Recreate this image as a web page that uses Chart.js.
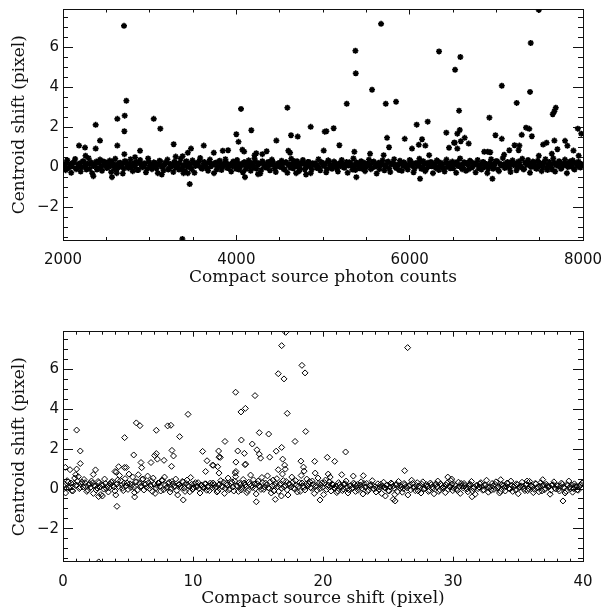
<!DOCTYPE html>
<html>
<head>
<meta charset="utf-8">
<script src="https://cdn.jsdelivr.net/npm/chart.js@4.4.1/dist/chart.umd.min.js"></script>
<style>
  body { margin: 0; background: #fff; }
  #wrap { position: relative; width: 603px; height: 609px; }
  #topChart { position: absolute; left: 0; top: 0; }
  #bottomChart { position: absolute; left: 0; top: 300px; }
</style>
</head>
<body>
<div id="wrap">
  <canvas id="topChart" width="603" height="300"></canvas>
  <canvas id="bottomChart" width="603" height="309"></canvas>
</div>
<script>
// ---- top panel: centroid shift vs photon counts ----
var countsBand = [
  2008, 2031, 2049, 2077, 2095, 2118, 2140, 2163, 2187, 2204, 2229, 2251,
  2270, 2296, 2318, 2337, 2362, 2384, 2401, 2427, 2450, 2468, 2493, 2515,
  2539, 2556, 2581, 2603, 2622, 2648, 2671, 2690, 2712, 2738, 2755, 2779,
  2804, 2823, 2846, 2869, 2890, 2914, 2935, 2957, 2982, 3003, 3026, 3048,
  3069, 3094, 3113, 3137, 3160, 3181, 3205, 3226, 3248, 3273, 3291, 3316,
  3338, 3357, 3383, 3406, 3425, 3450, 3472, 3494, 3517, 3538, 3562, 3583,
  3607, 3629, 3650, 3674, 3695, 3717, 3742, 3761, 3786, 3808, 3829, 3853,
  3874, 3896, 3920, 3941, 3963, 3988, 4009, 4030, 4055, 4076, 4098, 4121,
  4142, 4166, 4187, 4209, 4233, 4254, 4276, 4300, 4321, 4343, 4367, 4388,
  4410, 4434, 4455, 4478, 4501, 4522, 4546, 4567, 4589, 4613, 4634, 4656,
  4680, 4701, 4724, 4747, 4768, 4791, 4813, 4836, 4858, 4881, 4902, 4926,
  4948, 4969, 4993, 5015, 5037, 5060, 5082, 5104, 5127, 5149, 5172, 5194,
  5216, 5239, 5261, 5284, 5306, 5328, 5351, 5373, 5396, 5418, 5440, 5463,
  5485, 5507, 5530, 5552, 5575, 5597, 5619, 5642, 5664, 5687, 5709, 5731,
  5754, 5776, 5799, 5821, 5843, 5866, 5888, 5910, 5933, 5955, 5978, 6000,
  6022, 6045, 6067, 6090, 6112, 6134, 6157, 6179, 6201, 6224, 6246, 6269,
  6291, 6313, 6336, 6358, 6381, 6403, 6425, 6448, 6470, 6493, 6515, 6537,
  6560, 6582, 6605, 6627, 6649, 6672, 6694, 6716, 6739, 6761, 6784, 6806,
  6828, 6851, 6873, 6896, 6918, 6940, 6963, 6985, 7008, 7030, 7052, 7075,
  7097, 7120, 7142, 7164, 7187, 7209, 7232, 7254, 7276, 7299, 7321, 7343,
  7366, 7388, 7411, 7433, 7455, 7478, 7500, 7523, 7545, 7567, 7590, 7612,
  7634, 7657, 7679, 7702, 7724, 7746, 7769, 7791, 7814, 7836, 7858, 7881,
  7903, 7926, 7948, 7970, 7993
];
var shiftBandTop = [
  0.12, -0.15, 0.35, 0.02, -0.28, 0.22, 0.41, -0.05, 0.15, -0.22, 0.30, 0.05,
  -0.12, 0.45, 0.18, -0.30, 0.08, 0.28, -0.08, 0.38, -0.18, 0.12, 0.25, -0.02,
  0.33, -0.25, 0.10, 0.42, -0.10, 0.20, 0.02, -0.32, 0.30, 0.15, -0.05, 0.40,
  -0.20, 0.06, 0.26, -0.14, 0.36, 0.00, 0.18, -0.26, 0.44, 0.08, -0.10, 0.24,
  0.14, -0.30, 0.32, 0.04, -0.16, 0.22, 0.38, -0.06, 0.10, -0.24, 0.28, 0.16,
  -0.12, 0.42, 0.06, -0.20, 0.30, 0.12, -0.02, 0.34, -0.28, 0.20, 0.08, 0.46,
  -0.08, 0.26, 0.02, -0.18, 0.38, 0.14, -0.30, 0.22, 0.04, 0.32, -0.14, 0.18,
  0.40, -0.04, 0.10, -0.22, 0.28, 0.06, 0.36, -0.12, 0.16, -0.26, 0.24, 0.02,
  0.34, -0.18, 0.12, 0.44, -0.08, 0.20, -0.32, 0.30, 0.06, -0.02, 0.26, -0.16,
  0.38, 0.10, -0.24, 0.18, 0.02, 0.32, -0.10, 0.24, -0.28, 0.14, 0.42, -0.06,
  0.08, 0.30, -0.20, 0.16, 0.36, -0.12, 0.04, 0.26, -0.30, 0.20, 0.12, -0.04,
  0.40, -0.16, 0.22, 0.06, -0.26, 0.34, 0.10, -0.08, 0.28, 0.00, -0.22, 0.18,
  0.36, -0.02, 0.14, -0.28, 0.24, 0.08, 0.44, -0.14, 0.20, -0.06, 0.30, 0.04,
  -0.20, 0.16, 0.38, -0.10, 0.26, 0.02, -0.32, 0.22, 0.12, 0.34, -0.16, 0.06,
  0.28, -0.24, 0.18, 0.40, -0.04, 0.10, 0.32, -0.18, 0.24, 0.00, -0.12, 0.36,
  0.14, -0.26, 0.20, 0.08, 0.42, -0.08, 0.30, -0.20, 0.16, 0.04, 0.26, -0.30,
  0.10, 0.34, -0.14, 0.22, 0.02, -0.22, 0.38, 0.12, -0.06, 0.28, 0.18, -0.28,
  0.06, 0.44, -0.10, 0.24, -0.18, 0.14, 0.32, -0.02, 0.20, -0.26, 0.36, 0.08,
  -0.12, 0.26, 0.16, -0.30, 0.04, 0.40, -0.08, 0.18, 0.30, -0.20, 0.12, 0.46,
  -0.04, 0.22, 0.08, -0.24, 0.34, 0.14, -0.16, 0.28, 0.02, 0.42, -0.10, 0.20,
  0.36, -0.28, 0.10, 0.24, -0.06, 0.32, 0.06, -0.20, 0.18, 0.40, -0.14, 0.26,
  0.00, 0.44, -0.22, 0.16, 0.30, -0.08, 0.12, 0.38, -0.30, 0.22, 0.04, 0.34,
  -0.12, 0.18, 0.28, -0.02, 0.10
];
// second, denser layer of the band core
var countsCore = [
  2019, 2040, 2063, 2086, 2106, 2129, 2151, 2175, 2196, 2216, 2240, 2261,
  2283, 2307, 2327, 2350, 2373, 2392, 2414, 2438, 2459, 2481, 2504, 2527,
  2547, 2568, 2592, 2612, 2635, 2660, 2680, 2701, 2725, 2746, 2767, 2791,
  2813, 2834, 2857, 2879, 2902, 2924, 2946, 2970, 2992, 3014, 3037, 3058,
  3081, 3103, 3125, 3148, 3170, 3193, 3215, 3237, 3260, 3282, 3303, 3327,
  3347, 3370, 3394, 3415, 3437, 3461, 3483, 3505, 3527, 3550, 3572, 3595,
  3618, 3639, 3662, 3684, 3706, 3729, 3751, 3773, 3797, 3818, 3841, 3863,
  3885, 3908, 3930, 3952, 3975, 3998, 4019, 4042, 4065, 4087, 4109, 4131,
  4154, 4176, 4198, 4221, 4243, 4265, 4288, 4310, 4332, 4355, 4377, 4399,
  4422, 4444, 4466, 4489, 4511, 4534, 4556, 4578, 4601, 4623, 4645, 4668,
  4690, 4712, 4735, 4757, 4779, 4802, 4824, 4847, 4869, 4891, 4914, 4937,
  4958, 4981, 5004, 5026, 5048, 5071, 5093, 5115, 5138, 5160, 5183, 5205,
  5227, 5250, 5272, 5295, 5317, 5339, 5362, 5384, 5407, 5429, 5451, 5474,
  5496, 5518, 5541, 5563, 5586, 5608, 5630, 5653, 5675, 5698, 5720, 5742,
  5765, 5787, 5810, 5832, 5854, 5877, 5899, 5921, 5944, 5966, 5989, 6011,
  6033, 6056, 6078, 6101, 6123, 6145, 6168, 6190, 6212, 6235, 6257, 6280,
  6302, 6324, 6347, 6369, 6392, 6414, 6436, 6459, 6481, 6504, 6526, 6548,
  6571, 6593, 6616, 6638, 6660, 6683, 6705, 6727, 6750, 6772, 6795, 6817,
  6839, 6862, 6884, 6907, 6929, 6951, 6974, 6996, 7019, 7041, 7063, 7086,
  7108, 7131, 7153, 7175, 7198, 7220, 7243, 7265, 7287, 7310, 7332, 7354,
  7377, 7399, 7422, 7444, 7466, 7489, 7511, 7534, 7556, 7578, 7601, 7623,
  7645, 7668, 7690, 7713, 7735, 7757, 7780, 7802, 7825, 7847, 7869, 7892,
  7914, 7937, 7959, 7981
];
var shiftCoreTop = [
  0.10, 0.22, -0.05, 0.16, 0.04, 0.26, -0.10, 0.12, 0.20, 0.00, 0.28, 0.08,
  0.18, -0.08, 0.24, 0.06, 0.14, -0.12, 0.22, 0.02, 0.30, 0.10, -0.04, 0.18,
  0.06, 0.26, -0.10, 0.14, 0.00, 0.22, 0.12, -0.06, 0.28, 0.04, 0.16, -0.02,
  0.20, 0.08, -0.14, 0.24, 0.10, 0.02, 0.18, -0.08, 0.26, 0.12, 0.04, 0.20,
  -0.06, 0.14, 0.28, 0.00, 0.10, 0.22, -0.12, 0.16, 0.06, 0.24, -0.02, 0.12,
  0.20, -0.08, 0.08, 0.26, 0.02, 0.16, -0.10, 0.22, 0.06, 0.14, 0.30, -0.04,
  0.10, 0.18, -0.06, 0.24, 0.04, 0.12, 0.20, -0.12, 0.28, 0.08, 0.00, 0.16,
  0.22, -0.04, 0.14, 0.06, 0.26, -0.08, 0.18, 0.02, 0.10, 0.24, -0.10, 0.12,
  0.04, 0.20, -0.02, 0.28, 0.10, 0.16, -0.14, 0.22, 0.06, 0.00, 0.18, 0.12,
  0.26, -0.06, 0.08, 0.20, 0.02, 0.14, -0.10, 0.24, 0.10, -0.02, 0.16, 0.30,
  0.04, 0.12, -0.08, 0.22, 0.18, 0.00, 0.26, 0.06, -0.12, 0.14, 0.20, 0.08,
  -0.04, 0.24, 0.10, 0.16, -0.10, 0.28, 0.02, 0.12, 0.22, -0.06, 0.18, 0.06,
  0.14, -0.02, 0.26, 0.08, 0.20, -0.12, 0.10, 0.24, 0.04, 0.16, -0.08, 0.22,
  0.00, 0.18, 0.12, -0.04, 0.28, 0.06, 0.14, -0.10, 0.20, 0.10, 0.02, 0.26,
  -0.06, 0.16, 0.22, 0.04, 0.12, -0.14, 0.24, 0.08, 0.18, -0.02, 0.14, 0.30,
  0.06, -0.08, 0.20, 0.10, 0.26, 0.00, 0.16, -0.10, 0.22, 0.12, 0.04, 0.18,
  -0.04, 0.28, 0.08, 0.14, -0.12, 0.24, 0.02, 0.20, 0.10, -0.06, 0.16, 0.26,
  0.06, 0.12, -0.02, 0.22, 0.18, -0.10, 0.28, 0.04, 0.14, 0.20, -0.04, 0.10,
  0.24, 0.00, 0.16, -0.08, 0.22, 0.12, 0.06, 0.30, -0.12, 0.18, 0.08, 0.14,
  0.02, 0.26, -0.06, 0.20, 0.10, 0.16, -0.02, 0.24, 0.04, -0.10, 0.22, 0.12,
  0.18, 0.00, 0.28, 0.08, -0.08, 0.14, 0.20, 0.04, 0.26, -0.04, 0.12, 0.16,
  -0.12, 0.22, 0.10, 0.06, 0.24, -0.02, 0.18, 0.14, 0.00, 0.28, 0.08, -0.06,
  0.20, 0.12, 0.02, 0.16
];
var countsSpread = [
  2704, 2731, 2712, 2708, 2377, 2627, 2627, 2708, 3047, 3123, 2185, 2254,
  2377, 2427, 2260, 2831, 2889, 3277, 3300, 3380, 3477, 3440, 3624, 3740,
  3843, 3905, 3462, 3377, 2565, 2350, 2620, 3140, 3390, 3440,
  4000, 4025, 4054, 4070, 4090, 4173, 4100, 4250, 4210, 4230, 4300, 4350,
  4462, 4589, 4600, 4631, 4620, 4708, 4858, 5020, 4804, 4690,
  5670, 5374, 5378, 5566, 5274, 5724, 5843, 6339, 6524, 5039, 5123, 5189,
  5008, 5362, 5543, 5739, 5762, 5700, 5943, 6081, 6208, 6143, 6105, 6181,
  6027, 6423, 6454, 6512, 6225, 5385, 6120,
  7490, 7397, 6585, 7063, 7389, 7235, 6570, 6920, 7686, 7670, 7651, 6578,
  6550, 6635, 6590, 6520, 6681, 6550, 6990, 7063, 7343, 7380, 7410, 7293,
  7266, 7257, 7210, 7150, 7090, 7540, 7580, 7670, 7705, 7793, 7820, 7890,
  7940, 7980, 7950, 6955, 6860, 6900, 6930, 7640, 7490
];
var shiftSpreadTop = [
  7.08, 3.33, 2.58, 1.80, 2.12, 2.42, 1.08, 0.65, 2.42, 1.93, 1.08, 0.98,
  0.93, 1.33, 0.57, 0.50, 0.82, 1.15, 0.53, 0.55, 0.93, 0.72, 1.08, 0.72,
  0.82, 0.85, -0.85, -3.60, -0.50, -0.45, -0.30, -0.37, -0.30, -0.30,
  1.65, 1.27, 2.92, 0.87, 0.78, 1.85, -0.50, -0.35, 0.60, 0.70, 0.65, 0.80,
  1.33, 2.98, 0.82, 1.60, 0.72, 1.53, 2.02, 1.78, -0.37, -0.30,
  7.18, 5.83, 4.70, 3.88, 3.18, 3.18, 3.28, 5.80, 4.88, 1.80, 1.95, 1.10,
  0.83, 0.77, 0.67, 1.47, 1.00, 0.60, 1.42, 2.13, 2.28, 1.40, 1.12, 1.08,
  0.93, 1.73, 0.97, 1.22, 0.60, -0.50, -0.58,
  7.88, 6.22, 5.52, 4.08, 3.77, 3.22, 2.83, 2.48, 2.98, 2.80, 2.65, 1.86,
  1.68, 1.47, 1.30, 1.22, 1.18, 0.93, 1.60, 1.42, 1.98, 1.92, 1.55, 1.62,
  1.08, 0.85, 1.10, 0.85, 0.62, 1.13, 1.22, 1.33, 0.90, 1.32, 1.07, 0.83,
  1.93, 1.68, 0.57, -0.58, 0.77, 0.77, 0.75, 0.67, 0.57
];

// ---- bottom panel: centroid shift vs compact source shift ----
var pixBand = [
  0.05, 0.2, 0.32, 0.47, 0.61, 0.75, 0.9, 1.04, 1.18, 1.33, 1.47, 1.62,
  1.76, 1.9, 2.05, 2.19, 2.34, 2.48, 2.62, 2.77, 2.91, 3.06, 3.2, 3.34,
  3.49, 3.63, 3.78, 3.92, 4.06, 4.21, 4.35, 4.5, 4.64, 4.78, 4.93, 5.07,
  5.22, 5.36, 5.5, 5.65, 5.79, 5.94, 6.08, 6.22, 6.37, 6.51, 6.66, 6.8,
  6.94, 7.09, 7.23, 7.38, 7.52, 7.66, 7.81, 7.95, 8.1, 8.24, 8.38, 8.53,
  8.67, 8.82, 8.96, 9.1, 9.25, 9.39, 9.54, 9.68, 9.82, 9.97, 10.11, 10.26,
  10.4, 10.54, 10.69, 10.83, 10.98, 11.12, 11.26, 11.41, 11.55, 11.7, 11.84, 11.98,
  12.13, 12.27, 12.42, 12.56, 12.7, 12.85, 12.99, 13.14, 13.28, 13.42, 13.57, 13.71,
  13.86, 14.0, 14.14, 14.29, 14.43, 14.58, 14.72, 14.86, 15.01, 15.15, 15.3, 15.44,
  15.58, 15.73, 15.87, 16.02, 16.16, 16.3, 16.45, 16.59, 16.74, 16.88, 17.02, 17.17,
  17.31, 17.46, 17.6, 17.74, 17.89, 18.03, 18.18, 18.32, 18.46, 18.61, 18.75, 18.9,
  19.04, 19.18, 19.33, 19.47, 19.62, 19.76, 19.9, 20.05, 20.19, 20.34, 20.48, 20.62,
  20.77, 20.91, 21.06, 21.2, 21.34, 21.49, 21.63, 21.78, 21.92, 22.06, 22.21, 22.35,
  22.5, 22.64, 22.78, 22.93, 23.07, 23.22, 23.36, 23.5, 23.65, 23.79, 23.94, 24.08,
  24.22, 24.37, 24.51, 24.66, 24.8, 24.94, 25.09, 25.23, 25.38, 25.52, 25.66, 25.81,
  25.95, 26.1, 26.24, 26.38, 26.53, 26.67, 26.82, 26.96, 27.1, 27.25, 27.39, 27.54,
  27.68, 27.82, 27.97, 28.11, 28.26, 28.4, 28.54, 28.69, 28.83, 28.98, 29.12, 29.26,
  29.41, 29.55, 29.7, 29.84, 29.98, 30.13, 30.27, 30.42, 30.56, 30.7, 30.85, 30.99,
  31.14, 31.28, 31.42, 31.57, 31.71, 31.86, 32.0, 32.14, 32.29, 32.43, 32.58, 32.72,
  32.86, 33.01, 33.15, 33.3, 33.44, 33.58, 33.73, 33.87, 34.02, 34.16, 34.3, 34.45,
  34.59, 34.74, 34.88, 35.02, 35.17, 35.31, 35.46, 35.6, 35.74, 35.89, 36.03, 36.18,
  36.32, 36.46, 36.61, 36.75, 36.9, 37.04, 37.18, 37.33, 37.47, 37.62, 37.76, 37.9,
  38.05, 38.19, 38.34, 38.48, 38.62, 38.77, 38.91, 39.06, 39.2, 39.34, 39.49, 39.63,
  39.78, 39.92
];
var shiftBandBottom = [
  0.15, -0.2, 0.42, 0.05, 0.3, -0.1, 0.55, 0.2, 0.62, 0.08, 0.35, 0.48,
  0.12, -0.05, 0.28, 0.4, -0.22, 0.15, 0.05, 0.32, -0.28, 0.18, 0.5, 0.02,
  -0.15, 0.25, 0.38, 0.1, -0.3, 0.45, 0.68, 0.2, -0.08, 0.52, 0.3, 0.75,
  0.08, 0.6, -0.18, 0.36, 0.72, 0.12, 0.48, -0.05, 0.25, 0.65, 0.02, 0.4,
  0.55, -0.22, 0.18, 0.3, -0.1, 0.44, 0.6, 0.05, 0.28, -0.15, 0.38, 0.12,
  0.5, -0.3, 0.22, 0.08, 0.35, -0.12, 0.45, 0.15, 0.58, -0.02, 0.25, 0.1,
  0.32, -0.2, 0.18, 0.04, 0.26, 0.12, -0.08, 0.22, 0.3, 0.06, -0.15, 0.2,
  0.42, 0.1, -0.22, 0.28, 0.55, 0.02, 0.36, -0.1, 0.62, 0.15, 0.3, -0.05,
  0.48, 0.2, -0.18, 0.34, 0.7, 0.08, 0.25, -0.25, 0.4, 0.12, 0.58, -0.02,
  0.3, 0.66, 0.04, -0.2, 0.45, 0.18, 0.52, -0.12, 0.28, 0.75, 0.1, 0.38,
  -0.3, 0.22, 0.6, 0.05, 0.42, -0.15, 0.32, 0.68, 0.14, -0.05, 0.5, 0.26,
  0.08, 0.4, -0.22, 0.18, 0.55, 0.02, 0.3, -0.28, 0.45, 0.12, 0.36, -0.1,
  0.2, 0.05, -0.18, 0.32, 0.1, -0.08, 0.25, 0.4, -0.2, 0.15, 0.02, 0.3,
  -0.12, 0.22, 0.08, 0.36, -0.25, 0.12, 0.28, -0.05, 0.18, 0.42, 0.0, -0.15,
  0.26, 0.1, -0.22, 0.34, 0.05, 0.2, -0.1, 0.3, 0.14, -0.28, 0.24, 0.38,
  0.02, -0.16, 0.28, 0.12, -0.3, 0.2, 0.44, 0.06, -0.08, 0.32, 0.16, -0.2,
  0.36, 0.04, 0.22, -0.12, 0.3, 0.1, -0.24, 0.26, 0.4, -0.04, 0.18, 0.08,
  -0.18, 0.3, 0.14, 0.42, -0.08, 0.22, 0.0, 0.34, -0.22, 0.16, 0.28, 0.06,
  -0.14, 0.24, 0.38, 0.02, -0.26, 0.18, 0.1, 0.32, -0.06, 0.2, 0.44, -0.16,
  0.12, 0.28, -0.02, 0.36, 0.08, -0.2, 0.24, 0.16, -0.1, 0.3, 0.04, 0.4,
  -0.12, 0.18, 0.26, -0.24, 0.1, 0.34, 0.02, 0.22, -0.08, 0.38, 0.14, -0.18,
  0.28, 0.06, -0.14, 0.32, 0.18, -0.04, 0.24, 0.12, -0.26, 0.2, 0.36, 0.0,
  0.16, -0.1, 0.3, 0.08, -0.2, 0.22, 0.4, 0.02, -0.16, 0.26, 0.12, -0.06,
  0.18, 0.3
];
var pixCore = [
  0.12, 0.26, 0.4, 0.54, 0.68, 0.83, 0.97, 1.11, 1.26, 1.4, 1.55, 1.69,
  1.83, 1.98, 2.12, 2.27, 2.41, 2.55, 2.7, 2.84, 2.99, 3.13, 3.27, 3.42,
  3.56, 3.71, 3.85, 3.99, 4.14, 4.28, 4.43, 4.57, 4.71, 4.86, 5.0, 5.15,
  5.29, 5.43, 5.58, 5.72, 5.87, 6.01, 6.15, 6.3, 6.44, 6.59, 6.73, 6.87,
  7.02, 7.16, 7.31, 7.45, 7.59, 7.74, 7.88, 8.03, 8.17, 8.31, 8.46, 8.6,
  8.75, 8.89, 9.03, 9.18, 9.32, 9.47, 9.61, 9.75, 9.9, 10.04, 10.19, 10.33,
  10.47, 10.62, 10.76, 10.91, 11.05, 11.19, 11.34, 11.48, 11.63, 11.77, 11.91, 12.06,
  12.2, 12.35, 12.49, 12.63, 12.78, 12.92, 13.07, 13.21, 13.35, 13.5, 13.64, 13.79,
  13.93, 14.07, 14.22, 14.36, 14.51, 14.65, 14.79, 14.94, 15.08, 15.23, 15.37, 15.51,
  15.66, 15.8, 15.95, 16.09, 16.23, 16.38, 16.52, 16.67, 16.81, 16.95, 17.1, 17.24,
  17.39, 17.53, 17.67, 17.82, 17.96, 18.11, 18.25, 18.39, 18.54, 18.68, 18.83, 18.97,
  19.11, 19.26, 19.4, 19.55, 19.69, 19.83, 19.98, 20.12, 20.27, 20.41, 20.55, 20.7,
  20.84, 20.99, 21.13, 21.27, 21.42, 21.56, 21.71, 21.85, 21.99, 22.14, 22.28, 22.43,
  22.57, 22.71, 22.86, 23.0, 23.15, 23.29, 23.43, 23.58, 23.72, 23.87, 24.01, 24.15,
  24.3, 24.44, 24.59, 24.73, 24.87, 25.02, 25.16, 25.31, 25.45, 25.59, 25.74, 25.88,
  26.03, 26.17, 26.31, 26.46, 26.6, 26.75, 26.89, 27.03, 27.18, 27.32, 27.47, 27.61,
  27.75, 27.9, 28.04, 28.19, 28.33, 28.47, 28.62, 28.76, 28.91, 29.05, 29.19, 29.34,
  29.48, 29.63, 29.77, 29.91, 30.06, 30.2, 30.35, 30.49, 30.63, 30.78, 30.92, 31.07,
  31.21, 31.35, 31.5, 31.64, 31.79, 31.93, 32.07, 32.22, 32.36, 32.51, 32.65, 32.79,
  32.94, 33.08, 33.23, 33.37, 33.51, 33.66, 33.8, 33.95, 34.09, 34.23, 34.38, 34.52,
  34.67, 34.81, 34.95, 35.1, 35.24, 35.39, 35.53, 35.67, 35.82, 35.96, 36.11, 36.25,
  36.39, 36.54, 36.68, 36.83, 36.97, 37.11, 37.26, 37.4, 37.55, 37.69, 37.83, 37.98,
  38.12, 38.27, 38.41, 38.55, 38.7, 38.84, 38.99, 39.13, 39.27, 39.42, 39.56, 39.7,
  39.85
];
var shiftCoreBottom = [
  0.22, 0.05, 0.35, 0.12, -0.08, 0.28, 0.18, 0.4, 0.02, 0.25, 0.1, 0.32,
  -0.12, 0.2, 0.08, 0.3, 0.15, -0.05, 0.38, 0.1, 0.22, 0.0, 0.28, 0.14,
  0.06, 0.34, 0.18, -0.1, 0.24, 0.12, 0.42, 0.04, 0.3, 0.16, -0.02, 0.26,
  0.2, 0.1, 0.36, -0.06, 0.28, 0.14, 0.5, 0.22, 0.08, 0.32, 0.18, -0.12,
  0.24, 0.06, 0.3, 0.14, 0.44, -0.04, 0.2, 0.1, 0.34, 0.02, 0.26, 0.16,
  -0.08, 0.22, 0.12, 0.38, 0.04, 0.28, 0.18, -0.14, 0.24, 0.08, 0.32, 0.14,
  0.02, 0.2, 0.1, 0.26, -0.06, 0.16, 0.3, 0.06, 0.22, 0.12, -0.1, 0.24,
  0.14, 0.34, 0.04, 0.2, -0.04, 0.28, 0.1, 0.4, 0.16, -0.12, 0.22, 0.08,
  0.3, 0.12, -0.08, 0.24, 0.18, 0.46, 0.02, 0.26, 0.14, -0.02, 0.32, 0.1,
  0.2, 0.06, 0.36, 0.16, -0.1, 0.28, 0.12, 0.22, 0.04, 0.42, 0.18, -0.04,
  0.26, 0.1, 0.34, 0.0, 0.2, 0.14, -0.12, 0.3, 0.08, 0.24, 0.16, 0.38,
  0.04, 0.22, 0.12, -0.06, 0.28, 0.18, 0.08, 0.32, -0.02, 0.2, 0.1, 0.26,
  0.06, 0.16, -0.1, 0.22, 0.1, 0.0, 0.26, 0.12, -0.04, 0.18, 0.08, 0.24,
  0.14, -0.06, 0.2, 0.04, 0.28, 0.1, -0.12, 0.16, 0.22, 0.02, 0.12, 0.06,
  -0.02, 0.24, 0.14, 0.08, 0.18, -0.08, 0.1, 0.26, 0.04, 0.2, -0.14, 0.16,
  0.12, 0.02, 0.22, 0.06, 0.14, -0.04, 0.28, 0.1, 0.18, -0.1, 0.08, 0.24,
  0.0, 0.16, 0.12, -0.06, 0.22, 0.04, 0.18, 0.1, -0.12, 0.26, 0.06, 0.14,
  0.2, -0.02, 0.1, 0.24, 0.04, 0.16, -0.08, 0.12, 0.28, 0.06, 0.18, 0.0,
  0.14, 0.22, -0.1, 0.08, 0.18, 0.02, 0.26, 0.12, -0.04, 0.2, 0.1, 0.06,
  -0.06, 0.16, 0.24, 0.04, 0.12, -0.12, 0.2, 0.08, 0.14, 0.28, 0.0, 0.18,
  0.1, -0.04, 0.22, 0.06, 0.16, 0.12, -0.08, 0.24, 0.02, 0.18, 0.1, -0.02,
  0.26, 0.08, 0.14, -0.1, 0.2, 0.04, 0.16, 0.12, -0.06, 0.22, 0.06, 0.18,
  0.0, 0.14, 0.24, 0.08, -0.12, 0.18, 0.1, 0.2, 0.02, 0.16, -0.04, 0.12,
  0.22
];
var pixSpread = [
  16.82, 17.13, 16.56, 17.0, 17.25, 13.28, 14.77, 13.69, 14.03, 9.62, 5.64, 5.92,
  8.05, 8.3, 7.18, 1.05, 4.74, 8.97, 15.1, 15.82, 13.72, 12.46, 14.56, 17.85,
  13.44, 11.97, 10.74, 14.92, 15.1, 15.2, 13.95, 16.82, 16.4, 16.9, 15.9, 1.33,
  1.33, 5.44, 7.05, 7.18, 7.26, 6.77, 8.38, 8.5, 7.77, 6.0, 6.05, 11.08,
  11.5, 11.9, 12.0, 12.0, 10.97, 13.3, 13.3, 13.25, 14.05, 0.18, 0.54, 1.05,
  0.98, 4.0, 4.1, 4.28, 4.72, 4.87, 4.15, 14.87, 9.25, 5.51, 2.74, 3.03,
  16.33, 16.8, 18.38, 18.62, 18.67, 19.36, 12.1, 11.56, 14.0, 18.5, 18.3, 18.55,
  19.4, 19.77, 17.05, 17.1, 16.56, 2.33, 2.5, 8.35, 26.51, 21.74, 20.33, 20.9,
  26.28, 20.4, 20.55, 21.44, 22.33, 23.1, 25.4, 25.55, 24.8, 29.6, 29.9, 33.67,
  38.46, 36.9, 35.7, 31.46, 2.75
];
var shiftSpreadBottom = [
  7.2, 7.87, 5.79, 5.53, 3.8, 4.86, 4.69, 3.87, 4.05, 3.75, 3.32, 3.18,
  3.17, 3.2, 2.95, 2.96, 2.58, 2.63, 2.83, 2.76, 2.46, 2.39, 2.26, 2.39,
  1.91, 1.91, 1.89, 1.97, 1.75, 1.55, 1.79, 2.09, 1.9, 1.5, 1.6, 1.91,
  1.28, 1.71, 1.68, 1.78, 1.5, 1.33, 1.94, 1.66, 1.44, 1.33, 1.07, 1.42,
  1.2, 1.12, 1.6, 0.8, 0.88, 1.35, 0.88, 0.8, 1.25, 1.09, 0.97, 1.0,
  0.72, 0.88, 0.85, 1.12, 1.08, 1.08, -0.87, -0.64, -0.55, -0.4, -0.38, -0.35,
  -0.52, -0.35, 6.21, 5.83, 2.89, 1.39, 1.59, 1.19, 1.22, 1.1, 1.4, 0.9,
  0.8, -0.55, 1.2, 1.0, 0.97, 0.73, 0.96, 1.14, 7.1, 1.86, 1.59, 1.39,
  0.92, 0.75, 0.6, 0.72, 0.65, 0.67, -0.52, -0.6, -0.35, 0.6, 0.5, 0.47,
  -0.6, 0.47, 0.4, -0.39, -3.66
];

var yMin = -3.65, yMax = 7.9;
var tickFont = { family: "'DejaVu Sans', sans-serif", size: 15 };
var titleFont = { family: "'DejaVu Serif', serif", size: 17 };
var ink = '#111';

function pairs(xs, ys) {
  var out = [];
  for (var i = 0; i < xs.length && i < ys.length; i++) out.push({ x: xs[i], y: ys[i] });
  return out;
}

function fixSize(w, h) {
  return function (s) {
    if (w !== null) s.width = w;
    if (h !== null) s.height = h;
    s.paddingTop = 0; s.paddingBottom = 0; s.paddingLeft = 0; s.paddingRight = 0;
  };
}

function plainLabel(v) { return v < 0 ? '\u2212' + Math.abs(v) : String(v); }

// one axis = major ticks (labelled) + minor ticks, on each of the four sides
function buildScales(xr, xTitle, xHeight) {
  function side(pos, isX, step, tickLen, weight, labelled, size) {
    return {
      type: 'linear', position: pos, weight: weight,
      min: isX ? xr.min : yMin, max: isX ? xr.max : yMax,
      grid: { drawOnChartArea: false, drawTicks: true, tickLength: tickLen, color: ink, lineWidth: 1 },
      border: { display: true, color: ink, width: 1 },
      ticks: { stepSize: step, includeBounds: false, autoSkip: false, maxRotation: 0, display: labelled,
               font: tickFont, color: ink, callback: plainLabel },
      afterFit: isX ? fixSize(null, size) : fixSize(size, null)
    };
  }
  var sc = {
    x: side('bottom', true, xr.step, -5, 1, true, xHeight),
    xMinor: side('bottom', true, xr.minor, -3, 0, false, 0),
    xTop: side('top', true, xr.step, -5, 0, false, 0),
    xTopMinor: side('top', true, xr.minor, -3, 1, false, 0),
    y: side('left', false, 2, -10, 1, true, 63),
    yMinor: side('left', false, 0.5, -5, 0, false, 0),
    yRight: side('right', false, 2, -10, 0, false, 0),
    yRightMinor: side('right', false, 0.5, -5, 1, false, 0)
  };
  sc.x.ticks.padding = 16;
  sc.x.title = { display: true, text: xTitle, font: titleFont, color: ink, padding: { top: 0, bottom: xr.titlePad } };
  sc.y.ticks.padding = 14;
  sc.y.title = { display: true, text: 'Centroid shift (pixel)', font: titleFont, color: ink, padding: { top: 9, bottom: 0 } };
  return sc;
}

function makeChart(id, points, style, xr, xTitle, xHeight, padTop) {
  return new Chart(document.getElementById(id), {
    type: 'scatter',
    data: { datasets: [Object.assign({ data: points }, style)] },
    options: {
      responsive: false,
      animation: false,
      events: [],
      layout: { padding: { left: 0, right: 20, top: padTop, bottom: 0 } },
      plugins: { legend: { display: false }, tooltip: { enabled: false } },
      scales: buildScales(xr, xTitle, xHeight)
    }
  });
}

var topPoints = pairs(countsBand, shiftBandTop)
  .concat(pairs(countsCore, shiftCoreTop))
  .concat(pairs(countsSpread, shiftSpreadTop));
var bottomPoints = pairs(pixBand, shiftBandBottom)
  .concat(pairs(pixCore, shiftCoreBottom))
  .concat(pairs(pixSpread, shiftSpreadBottom));

makeChart('topChart', topPoints,
  { pointStyle: 'star', pointRadius: 3, borderColor: '#000', backgroundColor: '#000', pointBorderWidth: 1.6 },
  { min: 2000, max: 8000, step: 2000, minor: 500, titlePad: 12 },
  'Compact source photon counts', 60, 9.5);

makeChart('bottomChart', bottomPoints,
  { pointStyle: 'rectRot', pointRadius: 3, borderColor: '#000', backgroundColor: 'rgba(0,0,0,0)', pointBorderWidth: 1 },
  { min: 0, max: 40, step: 10, minor: 1, titlePad: 0 },
  'Compact source shift (pixel)', 47.3, 31.7);
</script>
</body>
</html>
